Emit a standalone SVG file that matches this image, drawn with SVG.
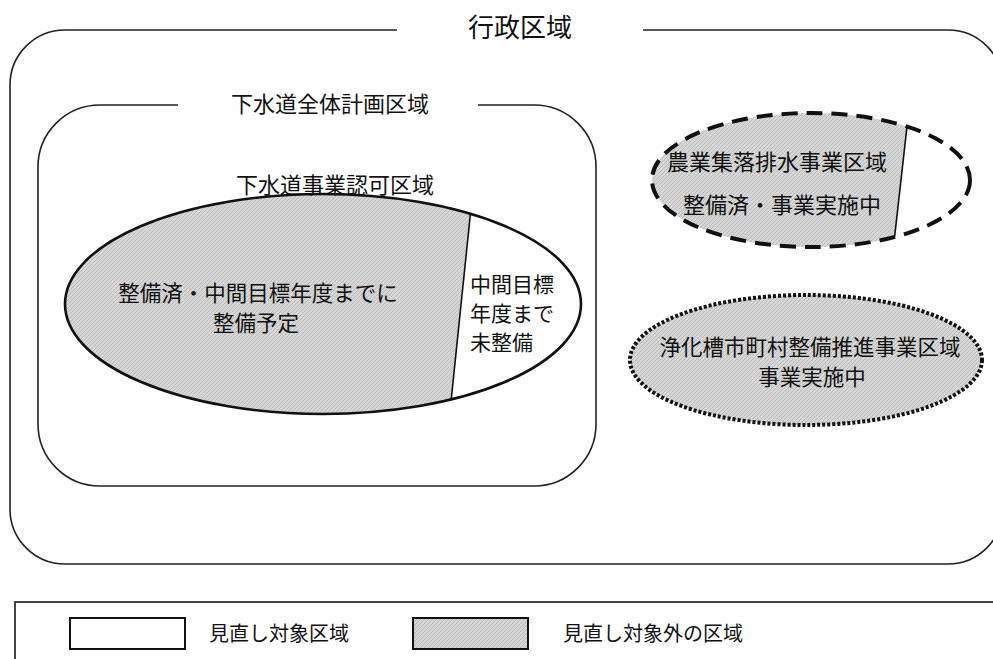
<svg xmlns="http://www.w3.org/2000/svg" width="993" height="659" viewBox="0 0 993 659">
<defs>
<style>
.t{font-family:"Noto Sans CJK JP","Noto Sans CJK SC",sans-serif;fill:#111;}
.frame{fill:none;stroke:#222;stroke-width:1.6;}
</style>
<pattern id="stip" width="4" height="4" patternUnits="userSpaceOnUse">
<rect width="4" height="4" fill="#d6d6d6"/>
<path d="M0 4 L4 0 M-1 1 L1 -1 M3 5 L5 3" stroke="#b4b4b4" stroke-width="0.8"/>
</pattern>
<clipPath id="c1"><ellipse cx="323" cy="304" rx="258" ry="110"/></clipPath>
<clipPath id="c2"><ellipse cx="811" cy="180" rx="159" ry="67"/></clipPath>
</defs>
<rect width="993" height="659" fill="#fff"/>

<g id="gyosei">
<path class="frame" d="M397 30 H65 A55 55 0 0 0 10 85 V509 A55 55 0 0 0 65 564 H948 A55 55 0 0 0 1003 509 V85 A55 55 0 0 0 948 30 H643"/>
<text class="t" x="520" y="37" font-size="26" text-anchor="middle">行政区域</text>
</g>

<g id="zentai">
<path class="frame" d="M178 105 H100 A62 62 0 0 0 38 167 V424 A62 62 0 0 0 100 486 H534 A62 62 0 0 0 596 424 V167 A62 62 0 0 0 534 105 H478"/>
<text class="t" x="330" y="112" font-size="22" text-anchor="middle">下水道全体計画区域</text>
</g>

<g id="ninka">
<ellipse cx="323" cy="304" rx="258" ry="110" fill="#fff"/>
<g clip-path="url(#c1)">
<polygon points="40,150 477,150 446,450 40,450" fill="url(#stip)"/>
<line x1="477" y1="150" x2="446" y2="450" stroke="#111" stroke-width="1.6"/>
</g>
<ellipse cx="323" cy="304" rx="258" ry="110" fill="none" stroke="#111" stroke-width="2.6"/>
<text class="t" x="335" y="193" font-size="22" text-anchor="middle">下水道事業認可区域</text>
<text class="t" x="258" y="301" font-size="21.5" text-anchor="middle">整備済・中間目標年度までに</text>
<text class="t" x="256" y="331" font-size="21.5" text-anchor="middle">整備予定</text>
<text class="t" x="470" y="292" font-size="21">中間目標</text>
<text class="t" x="470" y="321" font-size="21">年度まで</text>
<text class="t" x="470" y="350" font-size="21">未整備</text>
</g>

<g id="nogyo">
<ellipse cx="811" cy="180" rx="159" ry="67" fill="#fff"/>
<g clip-path="url(#c2)">
<polygon points="640,100 910,100 892,260 640,260" fill="url(#stip)"/>
<line x1="910" y1="100" x2="892" y2="260" stroke="#111" stroke-width="1.6"/>
</g>
<ellipse cx="811" cy="180" rx="159" ry="67" fill="none" stroke="#111" stroke-width="4" stroke-dasharray="16 9"/>
<text class="t" x="777" y="170" font-size="22" text-anchor="middle">農業集落排水事業区域</text>
<text class="t" x="782" y="213" font-size="22" text-anchor="middle">整備済・事業実施中</text>
</g>

<g id="jokaso">
<ellipse cx="806" cy="360" rx="176" ry="65" fill="url(#stip)" stroke="#111" stroke-width="4" stroke-dasharray="3 2"/>
<text class="t" x="810" y="355" font-size="21.5" text-anchor="middle">浄化槽市町村整備推進事業区域</text>
<text class="t" x="812" y="385" font-size="21.5" text-anchor="middle">事業実施中</text>
</g>

<g id="legend">
<rect x="15" y="602" width="1000" height="100" fill="none" stroke="#444" stroke-width="2"/>
<rect x="70" y="618" width="115" height="31" fill="#fff" stroke="#111" stroke-width="2"/>
<text class="t" x="209" y="641" font-size="20">見直し対象区域</text>
<rect x="413" y="618" width="115" height="31" fill="url(#stip)" stroke="#111" stroke-width="2"/>
<text class="t" x="563" y="641" font-size="20">見直し対象外の区域</text>
</g>
<g id="connectors"/>
</svg>
